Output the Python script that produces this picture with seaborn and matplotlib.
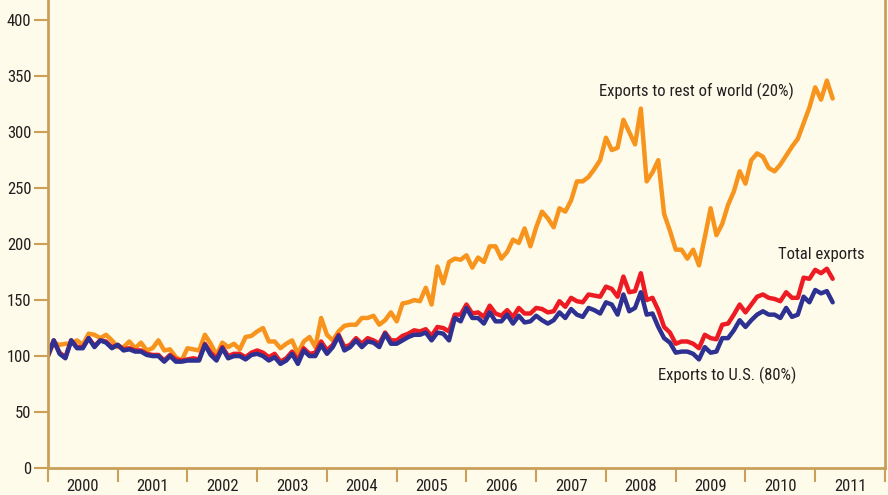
import numpy as np
import pandas as pd
import seaborn as sns
import matplotlib.pyplot as plt
from matplotlib.ticker import FixedLocator, NullFormatter

sns.set_style("white")
plt.rcParams["font.family"] = ["Roboto Condensed", "Archivo Narrow", "Barlow Semi Condensed", "DejaVu Sans"]

# monthly index values, Jan 2000 - Apr 2011 (2000 = 100)
start_year = 2000
years = list(range(2000, 2012))

us = [100, 114, 102, 98, 114, 107, 107, 116, 108, 114, 112, 107,
      110, 105, 106, 104, 104, 101, 100, 100, 95, 100, 95, 95,
      96, 96, 96, 110, 101, 96, 107, 98, 100, 100, 97, 101,
      102, 100, 96, 99, 93, 96, 102, 93, 105, 100, 100, 110,
      102, 108, 118, 105, 108, 114, 108, 113, 112, 108, 120, 111,
      111, 114, 117, 119, 119, 121, 114, 121, 120, 114, 134, 131,
      143, 134, 134, 129, 139, 131, 131, 137, 129, 136, 130, 131,
      136, 132, 129, 132, 139, 134, 142, 137, 135, 143, 141, 138,
      148, 146, 137, 155, 140, 143, 157, 137, 138, 126, 116, 112,
      103, 104, 104, 102, 97, 108, 103, 104, 116, 116, 123, 132,
      126, 132, 137, 140, 137, 137, 134, 143, 135, 137, 153, 148,
      159, 156, 158, 148]

total = [101, 114, 103, 99, 114, 108, 108, 116, 109, 114, 113, 108,
         110, 106, 107, 105, 105, 102, 101, 101, 96, 101, 97, 96,
         97, 98, 97, 111, 103, 98, 108, 100, 102, 102, 99, 103,
         105, 103, 99, 102, 95, 98, 104, 96, 107, 102, 103, 113,
         105, 110, 119, 108, 110, 116, 111, 116, 114, 111, 121, 114,
         114, 118, 120, 123, 122, 124, 118, 126, 125, 122, 137, 137,
         146, 138, 139, 135, 145, 138, 136, 141, 135, 143, 138, 138,
         143, 142, 139, 140, 149, 144, 152, 149, 148, 155, 154, 153,
         162, 160, 153, 171, 157, 158, 174, 150, 152, 141, 126, 121,
         111, 113, 113, 111, 107, 119, 116, 115, 128, 129, 137, 146,
         139, 146, 153, 155, 152, 151, 149, 157, 152, 152, 170, 169,
         177, 174, 178, 169]

rest = [100, 112, 110, 111, 111, 114, 110, 120, 119, 116, 119, 114,
        108, 108, 113, 107, 112, 105, 107, 114, 105, 106, 99, 96,
        107, 106, 105, 119, 111, 101, 112, 108, 111, 106, 117, 118,
        122, 125, 113, 113, 107, 111, 114, 102, 113, 117, 108, 134,
        119, 114, 122, 127, 128, 128, 134, 134, 136, 128, 132, 139,
        131, 147, 148, 150, 149, 161, 146, 180, 165, 184, 187, 186,
        190, 179, 188, 184, 198, 198, 187, 193, 204, 201, 214, 198,
        215, 229, 223, 215, 232, 229, 239, 256, 256, 260, 267, 275,
        295, 284, 286, 311, 300, 289, 321, 256, 264, 275, 227, 212,
        195, 195, 187, 195, 181, 206, 232, 208, 218, 235, 247, 265,
        254, 275, 281, 278, 268, 265, 271, 279, 287, 294, 308, 322,
        340, 329, 346, 330]

y_ticks = [0, 50, 100, 150, 200, 250, 300, 350, 400]

t = start_year + np.arange(len(us)) / 12
df = pd.DataFrame({
    "t": np.concatenate([t, t, t]),
    "value": rest + total + us,
    "series": ["rest"] * len(rest) + ["total"] * len(total) + ["us"] * len(us),
})

bg = "#FFFBEA"
tan = "#C9A05A"
txt = "#231F20"

fig = plt.figure(figsize=(8.88, 4.95), dpi=100)
fig.patch.set_facecolor(bg)
ax = fig.add_axes([0.054, 0.0545, 0.9426, 0.9455])
ax.set_facecolor(bg)

sns.lineplot(data=df, x="t", y="value", hue="series",
             hue_order=["rest", "total", "us"],
             palette={"rest": "#F7941D", "total": "#ED1C24", "us": "#2E3192"},
             linewidth=3.2, legend=False, ax=ax)

ax.set_xlim(2000, 2012)
ax.set_ylim(0, 418)
ax.set_xlabel("")
ax.set_ylabel("")

ax.set_yticks(y_ticks)
ax.set_yticklabels([str(v) for v in y_ticks], fontsize=12, color=txt)

ax.xaxis.set_major_locator(FixedLocator(years + [2012]))
ax.xaxis.set_major_formatter(NullFormatter())
ax.xaxis.set_minor_locator(FixedLocator([y + 0.5 for y in years]))
ax.set_xticklabels([str(y) for y in years], minor=True, fontsize=12, color=txt)
ax.tick_params(axis="x", which="major", bottom=True, direction="out", length=10, width=1.5, color=tan)
ax.tick_params(axis="x", which="minor", bottom=True, length=0, pad=8)
ax.tick_params(axis="y", left=True, direction="out", length=10, width=1.5, color=tan, pad=2)

for side in ["left", "bottom", "right"]:
    ax.spines[side].set_color(tan)
    ax.spines[side].set_linewidth(2)
ax.spines["top"].set_visible(False)

ax.text(2007.9, 336, "Exports to rest of world (20%)", fontsize=12, color=txt, va="center")
ax.text(2010.47, 191, "Total exports", fontsize=12, color=txt, va="center")
ax.text(2008.75, 83, "Exports to U.S. (80%)", fontsize=12, color=txt, va="center")

fig.savefig("out.png", dpi=100, facecolor=bg)
